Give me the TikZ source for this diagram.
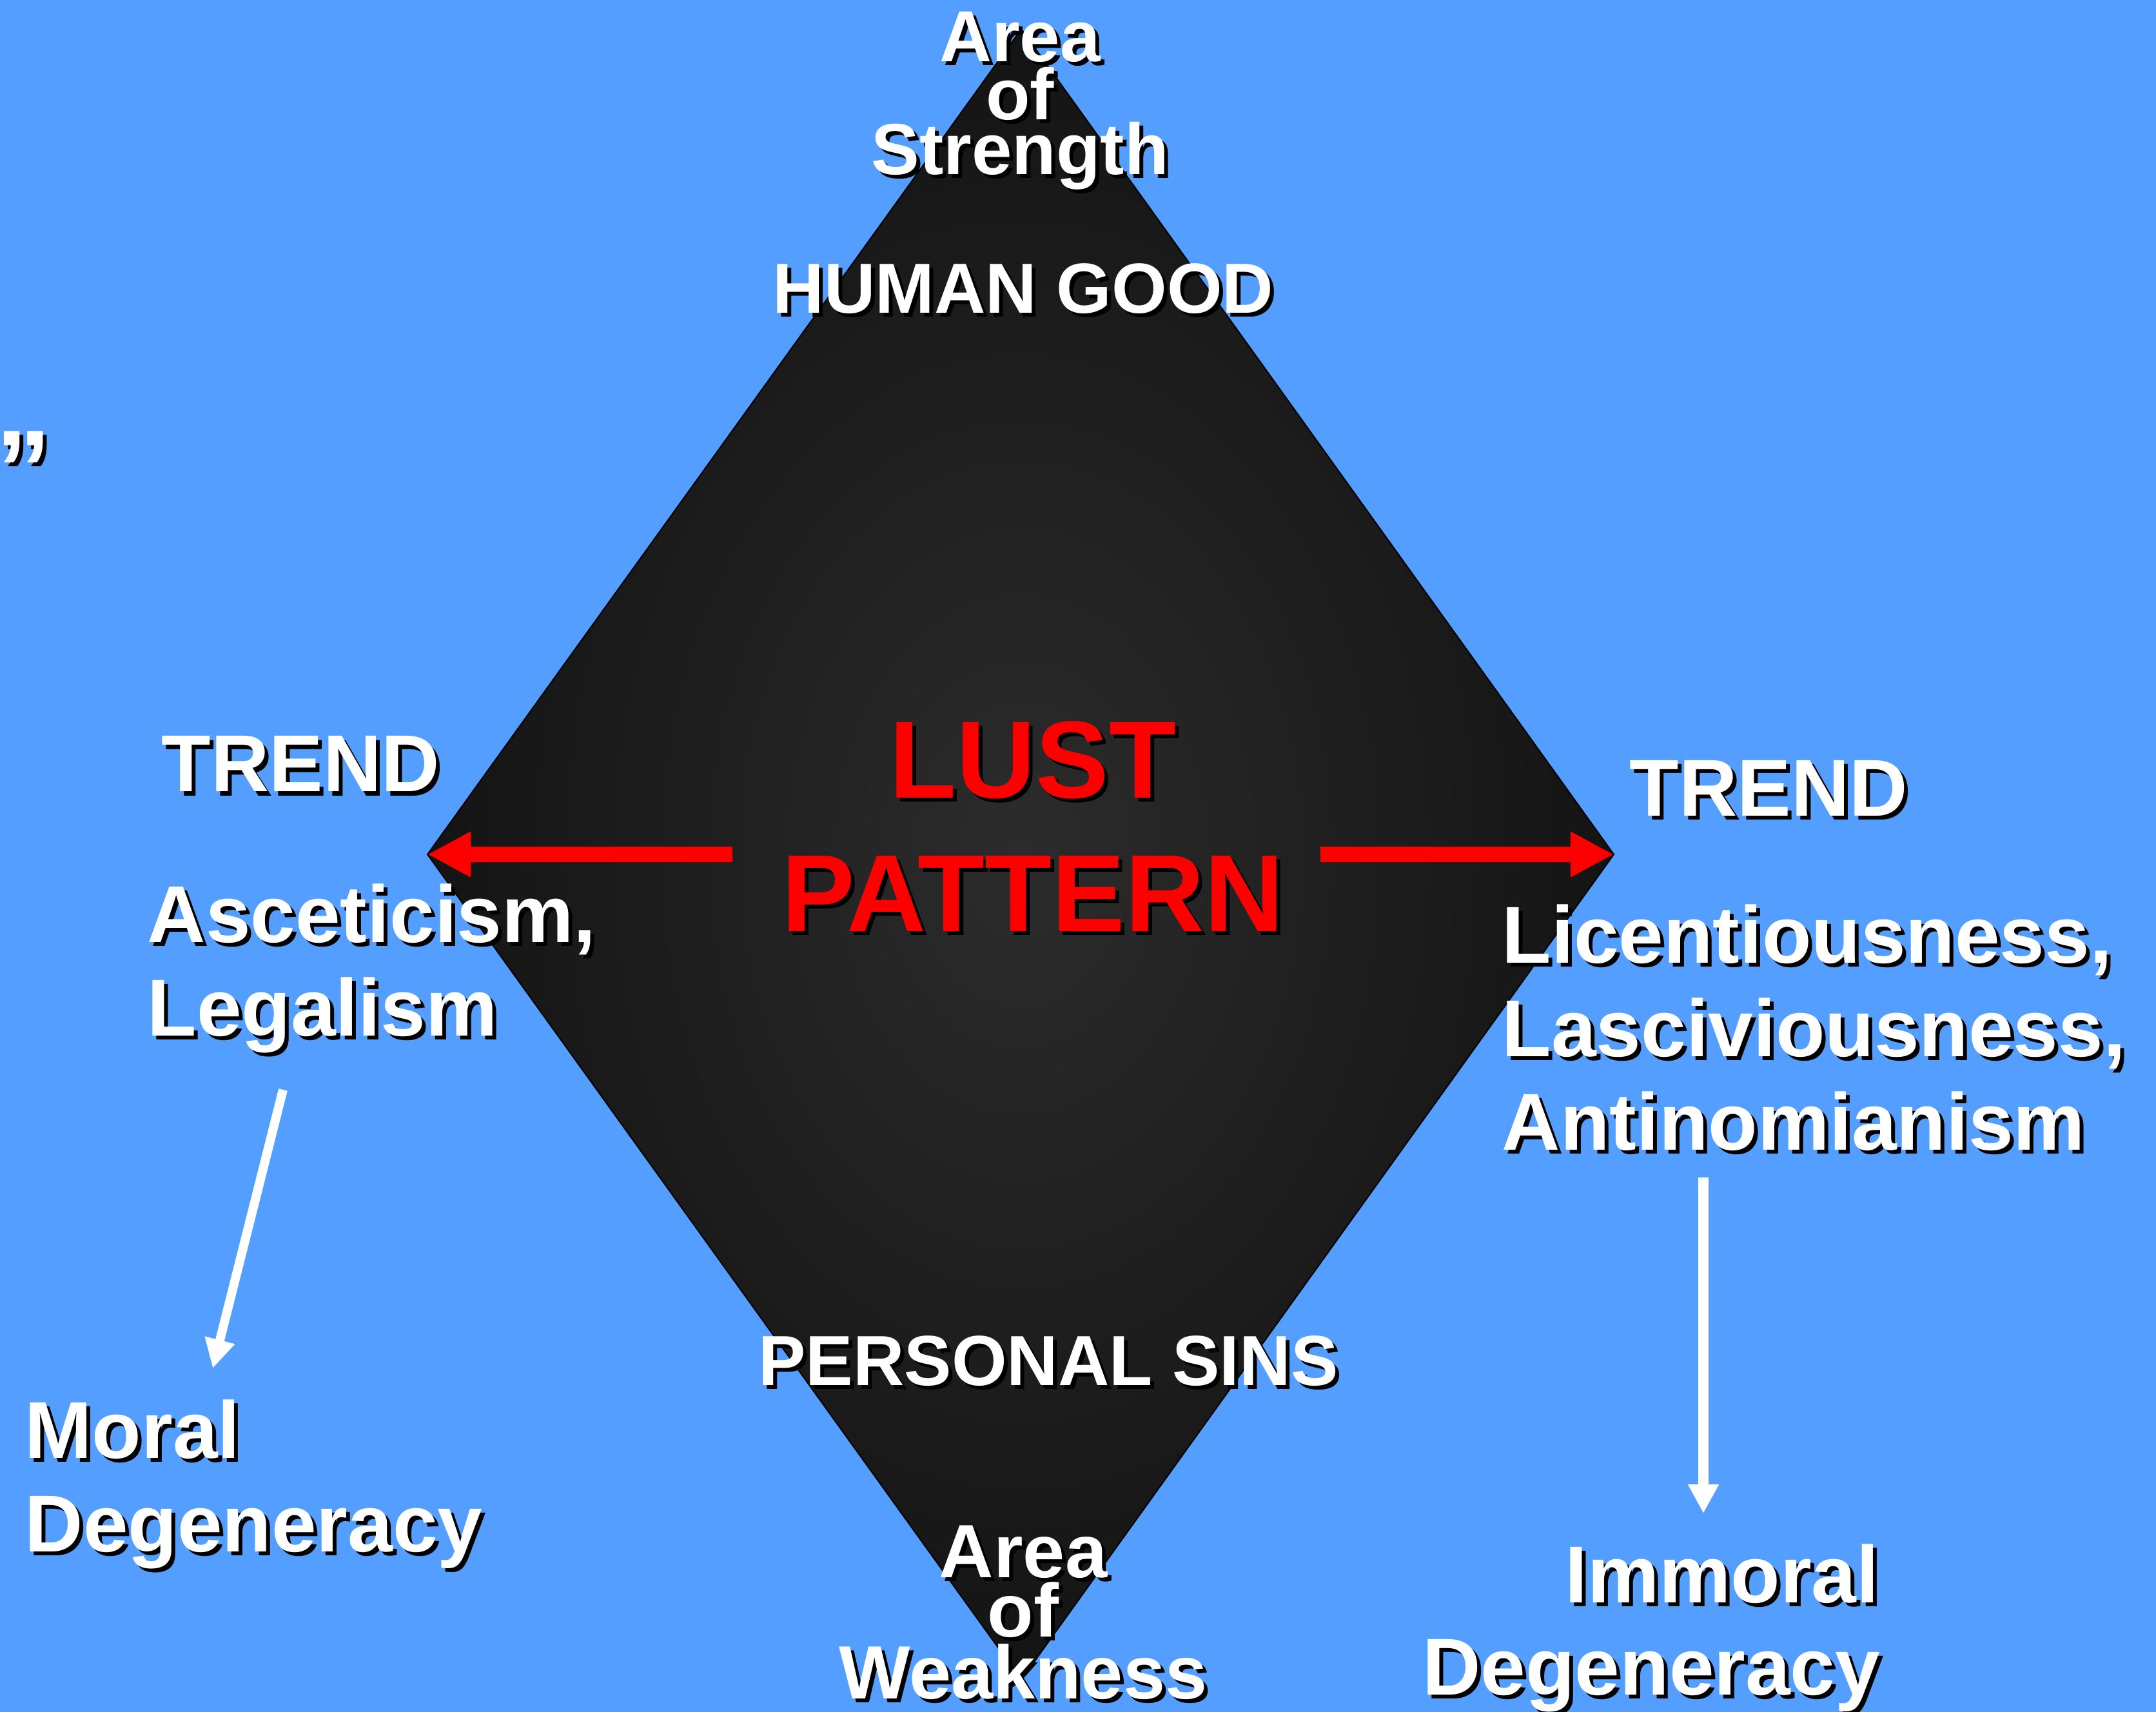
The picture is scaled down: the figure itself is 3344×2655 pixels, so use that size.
\documentclass[tikz,border=0pt]{standalone}
\usepackage{fontspec}
\setmainfont{Liberation Sans}
\usetikzlibrary{arrows.meta}
\definecolor{bg}{RGB}{83,158,255}
\definecolor{diaout}{RGB}{20,20,20}
\definecolor{diain}{RGB}{44,44,44}
\definecolor{lustred}{RGB}{255,0,0}
\newcommand\fsTop{\fontsize{31.9pt}{32pt}\selectfont}
\newcommand\fsMid{\fontsize{31.3pt}{32pt}\selectfont}
\newcommand\fsSide{\fontsize{35.6pt}{36pt}\selectfont}
\newcommand\fsBot{\fontsize{33.3pt}{34pt}\selectfont}
\newcommand\fsBig{\fontsize{48.4pt}{49pt}\selectfont}
\newcommand\fsQuote{\fontsize{49pt}{50pt}\selectfont}
% #1 name, #2 anchor, #3 position, #4 size, #5 colour, #6 text
\newcommand\shtext[6]{%
  \node[shadowlbl, anchor=#2] at (#3) {#4#6};
  \node[lbl, text=#5, anchor=#2] (#1) at (#3) {#4#6};
}
\begin{document}
\begin{tikzpicture}[x=0.01cm, y=-0.01cm,
  lbl/.style={inner sep=0pt, font=\bfseries},
  shadowlbl/.style={inner sep=0pt, font=\bfseries, text=black, xshift=0.06cm, yshift=-0.06cm},
  redarrow/.style={draw=lustred, line width=0.24cm, -{Triangle[length=0.67cm, width=0.66cm]}},
  whitearrow/.style={draw=white, line width=0.14cm, -{Triangle[length=0.45cm, width=0.45cm]}}
]
\useasboundingbox (0,0) rectangle (3344,2655);
\fill[bg] (0,0) rectangle (3344,2655);

% diamond
\coordinate (tv) at (1584,45);
\coordinate (rv) at (2503,1325);
\coordinate (bv) at (1584,2605);
\coordinate (lv) at (663,1325);
\shadedraw[inner color=diain, outer color=diaout, draw=black, line width=0.02cm]
  (tv) -- (rv) -- (bv) -- (lv) -- cycle;

% red arrows
\coordinate (lstart) at (1136,1325);
\coordinate (rstart) at (2048,1325);
\draw[redarrow] (lstart) -- (lv);
\draw[redarrow] (rstart) -- (rv);

% white arrows
\coordinate (la1) at (439,1690);
\coordinate (la2) at (330,2122);
\coordinate (ra1) at (2642,1826);
\coordinate (ra2) at (2642,2347);
\draw[whitearrow] (la1) -- (la2);
\draw[whitearrow, line width=0.16cm] (ra1) -- (ra2);

% texts
\shtext{quote}{north east}{80,668}{\fsQuote}{white}{”}

\shtext{areaT}{base}{1582,96}{\fsTop}{white}{Area}
\shtext{ofT}{base}{1582,186}{\fsTop}{white}{of}
\shtext{strength}{base}{1582,271}{\fsTop}{white}{Strength}

\shtext{humangood}{base}{1587,486}{\fsMid}{white}{HUMAN GOOD}
\shtext{personalsins}{base}{1626,2148}{\fsMid}{white}{PERSONAL SINS}

\shtext{lust}{base}{1602,1237}{\fsBig}{lustred}{LUST}
\shtext{pattern}{base}{1602,1444}{\fsBig}{lustred}{PATTERN}

\shtext{trendL}{base west}{250,1228}{\fsSide}{white}{TREND}
\shtext{asceticism}{base west}{228,1461}{\fsSide}{white}{Asceticism,}
\shtext{legalism}{base west}{228,1606}{\fsSide}{white}{Legalism}

\shtext{trendR}{base west}{2527,1265}{\fsSide}{white}{TREND}
\shtext{licent}{base west}{2329,1493}{\fsSide}{white}{Licentiousness,}
\shtext{lasciv}{base west}{2329,1638}{\fsSide}{white}{Lasciviousness,}
\shtext{antinom}{base west}{2329,1783}{\fsSide}{white}{Antinomianism}

\shtext{moral}{base west}{38,2261}{\fsSide}{white}{Moral}
\shtext{degenL}{base west}{38,2406}{\fsSide}{white}{Degeneracy}

\shtext{immoral}{base east}{2915,2485}{\fsSide}{white}{Immoral}
\shtext{degenR}{base east}{2917,2628}{\fsSide}{white}{Degeneracy}

\shtext{areaB}{base}{1587,2446}{\fsBot}{white}{Area}
\shtext{ofB}{base}{1587,2538}{\fsBot}{white}{of}
\shtext{weakness}{base}{1587,2634}{\fsBot}{white}{Weakness}
\end{tikzpicture}
\end{document}
